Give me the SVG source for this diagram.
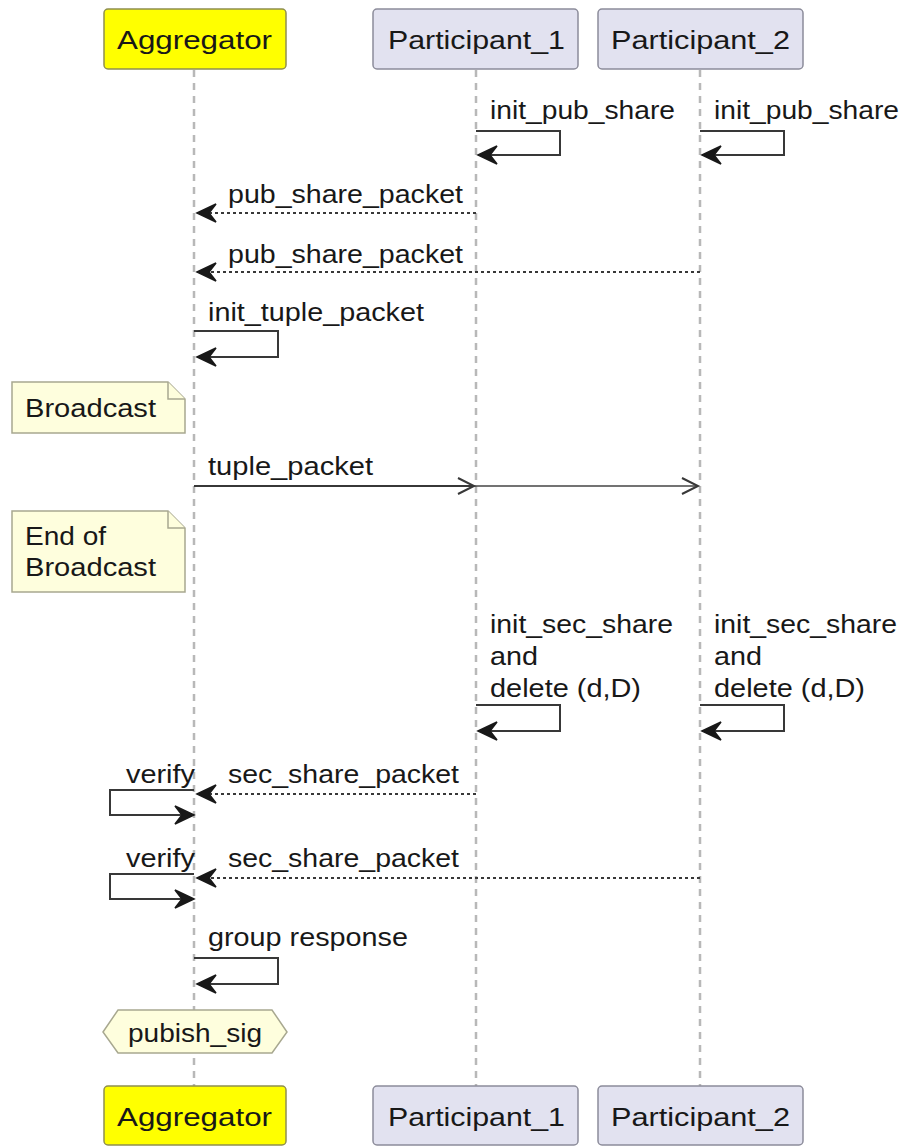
<svg xmlns="http://www.w3.org/2000/svg" width="904" height="1146" viewBox="0 0 904 1146">
<defs>
<style>
text{font-family:"Liberation Sans",Arial,sans-serif;font-size:25px;fill:#181818}
.life{stroke:#b8b8b8;stroke-width:2.5;stroke-dasharray:7,6;fill:none}
.agg{fill:#ffff00;stroke:#8f8f50;stroke-width:1.5}
.par{fill:#e2e2f0;stroke:#8c8c9a;stroke-width:1.5}
.msg{stroke:#383838;stroke-width:2;fill:none}
.dot{stroke:#383838;stroke-width:2;fill:none;stroke-dasharray:3,3}
.head{fill:#181818;stroke:#181818;stroke-width:1.5;stroke-linejoin:miter}
.note{fill:#fefedd;stroke:#a8a890;stroke-width:1.5}
</style>
<polygon id="ahL" points="0,0 19,-9 12,0 19,9"/>
<polygon id="ahR" points="0,0 -19,-9 -12,0 -19,9"/>
</defs>
<rect width="904" height="1146" fill="#ffffff"/>
<g id="lifelines">
<line class="life" x1="194" y1="70" x2="194" y2="1086"/>
<line class="life" x1="476" y1="70" x2="476" y2="1086"/>
<line class="life" x1="700" y1="70" x2="700" y2="1086"/>
</g>
<g id="node-aggregator-top"><rect class="agg" x="104" y="9" width="182" height="60" rx="4"/><text x="117" y="49" textLength="155" lengthAdjust="spacingAndGlyphs">Aggregator</text></g>
<g id="node-p1-top"><rect class="par" x="373" y="9" width="205" height="60" rx="4"/><text x="388" y="49" textLength="177" lengthAdjust="spacingAndGlyphs">Participant_1</text></g>
<g id="node-p2-top"><rect class="par" x="598" y="9" width="205" height="60" rx="4"/><text x="611" y="49" textLength="179" lengthAdjust="spacingAndGlyphs">Participant_2</text></g>
<g id="node-aggregator-bottom"><rect class="agg" x="104" y="1086" width="182" height="59" rx="4"/><text x="117" y="1126" textLength="155" lengthAdjust="spacingAndGlyphs">Aggregator</text></g>
<g id="node-p1-bottom"><rect class="par" x="373" y="1086" width="205" height="59" rx="4"/><text x="388" y="1126" textLength="177" lengthAdjust="spacingAndGlyphs">Participant_1</text></g>
<g id="node-p2-bottom"><rect class="par" x="598" y="1086" width="205" height="59" rx="4"/><text x="611" y="1126" textLength="179" lengthAdjust="spacingAndGlyphs">Participant_2</text></g>
<g id="note-broadcast">
<path class="note" d="M12,382 L168,382 L185,399 L185,433 L12,433 Z"/>
<path class="note" d="M168,382 L168,399 L185,399"/>
<text x="25" y="417" textLength="131" lengthAdjust="spacingAndGlyphs">Broadcast</text>
</g>
<g id="note-end">
<path class="note" d="M12,511 L168,511 L185,528 L185,592 L12,592 Z"/>
<path class="note" d="M168,511 L168,528 L185,528"/>
<text x="25" y="545" textLength="81" lengthAdjust="spacingAndGlyphs">End of</text>
<text x="25" y="576" textLength="131" lengthAdjust="spacingAndGlyphs">Broadcast</text>
</g>
<g id="node-publish">
<polygon class="note" points="103,1032 118,1010 272,1010 287,1032 272,1053 118,1053"/>
<text x="128" y="1042" textLength="134" lengthAdjust="spacingAndGlyphs">pubish_sig</text>
</g>
<g id="connectors">
<polyline class="msg" points="476,131 560,131 560,155 480,155"/>
<use href="#ahL" class="head" x="478" y="155"/>
<text x="490" y="119" textLength="185" lengthAdjust="spacingAndGlyphs">init_pub_share</text>
<polyline class="msg" points="700,131 784,131 784,155 704,155"/>
<use href="#ahL" class="head" x="702" y="155"/>
<text x="714" y="119" textLength="185" lengthAdjust="spacingAndGlyphs">init_pub_share</text>
<line class="dot" x1="476" y1="213" x2="202" y2="213"/>
<use href="#ahL" class="head" x="197" y="213"/>
<text x="228" y="203" textLength="235" lengthAdjust="spacingAndGlyphs">pub_share_packet</text>
<line class="dot" x1="700" y1="272" x2="202" y2="272"/>
<use href="#ahL" class="head" x="197" y="272"/>
<text x="228" y="263" textLength="235" lengthAdjust="spacingAndGlyphs">pub_share_packet</text>
<polyline class="msg" points="194,331 278,331 278,357 198,357"/>
<use href="#ahL" class="head" x="197" y="357"/>
<text x="208" y="321" textLength="216" lengthAdjust="spacingAndGlyphs">init_tuple_packet</text>
<line class="msg" x1="194" y1="486" x2="474" y2="486" stroke-width="2.5"/>
<polyline class="msg" points="458,478 474,486 458,494"/>
<line class="msg" x1="194" y1="486" x2="698" y2="486" stroke-opacity="0.7"/>
<polyline class="msg" points="682,478 698,486 682,494"/>
<text x="208" y="475" textLength="165" lengthAdjust="spacingAndGlyphs">tuple_packet</text>
<polyline class="msg" points="476,705 560,705 560,731 480,731"/>
<use href="#ahL" class="head" x="478" y="731"/>
<text x="490" y="633" textLength="183" lengthAdjust="spacingAndGlyphs">init_sec_share</text>
<text x="490" y="665" textLength="48" lengthAdjust="spacingAndGlyphs">and</text>
<text x="490" y="697" textLength="151" lengthAdjust="spacingAndGlyphs">delete (d,D)</text>
<polyline class="msg" points="700,705 784,705 784,731 704,731"/>
<use href="#ahL" class="head" x="702" y="731"/>
<text x="714" y="633" textLength="183" lengthAdjust="spacingAndGlyphs">init_sec_share</text>
<text x="714" y="665" textLength="48" lengthAdjust="spacingAndGlyphs">and</text>
<text x="714" y="697" textLength="151" lengthAdjust="spacingAndGlyphs">delete (d,D)</text>
<polyline class="msg" points="194,790 110,790 110,815 190,815"/>
<use href="#ahR" class="head" x="194" y="815"/>
<text x="126" y="783" textLength="69" lengthAdjust="spacingAndGlyphs">verify</text>
<line class="dot" x1="476" y1="794" x2="202" y2="794"/>
<use href="#ahL" class="head" x="197" y="794"/>
<text x="228" y="783" textLength="231" lengthAdjust="spacingAndGlyphs">sec_share_packet</text>
<polyline class="msg" points="194,874 110,874 110,899 190,899"/>
<use href="#ahR" class="head" x="194" y="899"/>
<text x="126" y="867" textLength="69" lengthAdjust="spacingAndGlyphs">verify</text>
<line class="dot" x1="700" y1="878" x2="202" y2="878"/>
<use href="#ahL" class="head" x="197" y="878"/>
<text x="228" y="867" textLength="231" lengthAdjust="spacingAndGlyphs">sec_share_packet</text>
<polyline class="msg" points="194,958 278,958 278,984 198,984"/>
<use href="#ahL" class="head" x="197" y="984"/>
<text x="208" y="946" textLength="200" lengthAdjust="spacingAndGlyphs">group response</text>
</g>
</svg>
